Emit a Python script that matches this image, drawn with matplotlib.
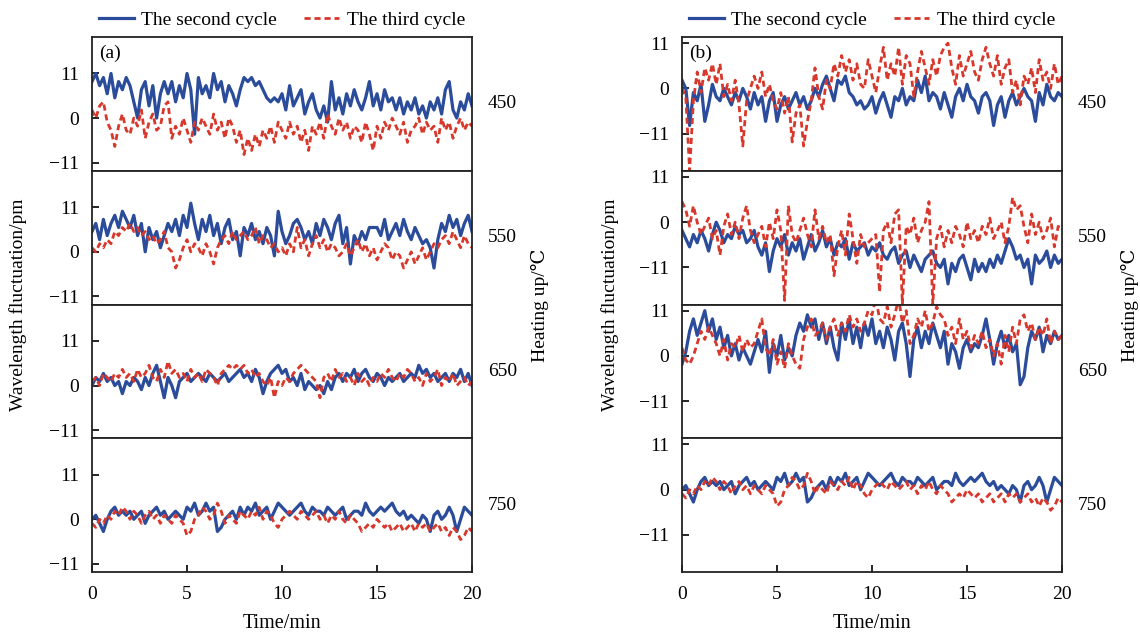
import numpy as np
import matplotlib
matplotlib.use("Agg")
import matplotlib.pyplot as plt

plt.rcParams['font.family'] = ['Liberation Serif', 'DejaVu Serif']
plt.rcParams['font.size'] = 14

# time axis, one reading every 0.2 min
TIME = np.linspace(0, 20, 101)

BLUE = '#2b4c9b'
RED = '#d8382b'

# ---- panel (a) ----
a450_second = [9, 11, 8, 10, 6, 11, 5, 9, 7, 10,
               8, 4, 0, 7, 9, 3, 8, 0, 6, 9,
               6, 9, 4, 8, 5, 11, 7, -4, 10, 6,
               8, 5, 11, 7, 9, 4, 8, 6, 3, 7,
               10, 9, 10, 8, 9, 7, 5, 4, 5, 4,
               6, 2, 8, 3, 5, 7, 1, 4, 6, 2,
               0, 3, -1, 9, 2, 5, 1, 6, 3, 7,
               4, 2, 5, 9, 3, 6, 2, 7, 4, 5,
               2, 5, 1, 4, 2, 5, 1, 3, 0, 4,
               2, 5, 1, 7, 9, 2, 0, 4, 2, 6, 3]
a450_third = [2, 0, 3, 4, -1, -3, -7, -2, 1, -3,
              -4, 0, -2, 2, -5, -1, 1, -3, -2, 3,
              4, -5, -2, -4, 0, -3, -6, -1, -3, 0,
              -2, -4, 1, -3, -1, -5, 0, -2, -6, -3,
              -9, -5, -8, -4, -7, -3, -5, -2, -6, -1,
              -3, -5, -1, -4, -2, -6, -3, -8, -2, -4,
              -1, -5, 1, -2, -4, 0, -3, -1, -5, -2,
              -3, -6, -1, -4, -8, -2, -5, -1, -3, 0,
              -2, -4, -1, -6, -3, -2, 0, -4, -1, -3,
              -2, -6, 0, -3, -1, -5, -2, 0, -3, -1, -2]

a550_second = [5, 7, 3, 8, 4, 7, 9, 6, 10, 8,
               6, 9, 4, 7, 0, 6, 3, 5, 1, 4,
               7, 5, 8, 4, 9, 6, 12, 7, 3, 8,
               5, 9, 4, 7, 2, 6, 8, 3, 5, -1,
               6, 4, 7, 3, 5, 2, 6, 4, -1, 10,
               5, 2, 4, 7, 8, 6, 3, 5, 2, 7,
               4, 8, 6, 3, 7, 9, 2, 6, -3, 4,
               2, 5, 3, 6, 6, 6, 4, 8, 3, 5,
               7, 4, 8, 5, 3, 6, 4, 2, 3, 1,
               -4, 3, 7, 5, 9, 6, 8, 4, 7, 9, 5]
a550_third = [1, 0, 2, 1, 3, 2, 5, 4, 6, 5,
              7, 5, 6, 4, 5, 3, 4, 2, 3, 5,
              1, 0, -4, -2, 1, 3, 0, 2, 1, -1,
              2, 0, -3, 1, 3, 4, 2, 5, 3, 4,
              5, 3, 4, 6, 2, 4, 3, 1, 2, 0,
              1, -1, 2, 0, 6, 1, 3, -1, 2, 4,
              1, 3, 0, 2, 1, -1, 0, 2, -1, 1,
              3, 0, 2, -1, 1, -2, 0, 2, 1, -2,
              0, -1, -4, -2, 0, -3, -1, 1, -2, 0,
              2, 1, 3, 4, 2, 5, 3, 1, 4, 2, 1]

a650_second = [0, 2, 1, 3, 1, 2, 0, 1, -2, 1,
               0, 2, 1, -1, 2, 0, 3, 5, 1, -3,
               2, 0, -3, 1, 2, 3, 1, 2, 3, 2,
               1, 3, 2, 1, 2, 3, 1, 2, 3, 4,
               2, 3, 1, 4, 2, -2, 1, 3, 4, 5,
               3, 4, 1, 2, 0, 3, -1, 1, 0, -1,
               0, -2, 1, -1, 2, 3, 1, 3, 2, 4,
               1, 3, 4, 2, 1, 3, 2, 0, 2, 1,
               2, 3, 1, 2, 3, 2, 5, 3, 4, 2,
               3, 1, 2, 3, 1, 3, 2, 4, 1, 3, 0]
a650_third = [1, 2, 0, 3, 2, 1, 3, 2, 4, 2,
              3, 1, 4, 2, 3, 5, 2, 1, 4, 2,
              6, 3, 4, 2, 3, 1, 4, 2, 3, 1,
              4, 3, 2, 0, 3, 4, 5, 4, 5, 4,
              5, 3, 4, 2, 3, 1, 0, 2, -3, 1,
              0, 2, 1, 3, 4, 5, 4, 3, 2, 1,
              -3, 2, 3, 1, 4, 2, 3, 1, 2, 0,
              3, 1, 2, 0, 2, 1, 3, 2, 4, 2,
              1, 3, 2, 4, 3, 1, 2, 0, 3, 1,
              2, 4, 0, 2, 1, 3, 0, 1, 2, 0, 1]

# 750 looks the same in both panels
s750_second = [0, 1, -1, -3, 0, 2, 3, 1, 2, 1,
               2, 0, 1, 2, -1, 1, 2, 3, 1, 2,
               0, 1, 2, 1, 0, 3, 2, 4, 1, 2,
               4, 2, 3, -3, -2, 0, 1, 2, 0, 3,
               1, 3, 2, 4, 1, 2, 3, 0, 2, 4,
               3, 2, 1, 2, 3, 4, 2, 1, 3, 2,
               2, 1, 3, 2, 1, 2, 3, 0, 1, 2,
               2, 1, 4, 2, 1, 2, 3, 2, 3, 4,
               2, 1, 2, 0, 1, 0, -1, 1, 0, -3,
               1, 2, 0, 1, 3, 1, -3, 0, 3, 2, 1]
s750_third = [-1, -2, 0, -1, 1, 0, 2, 1, 3, 2,
              0, 2, 1, -1, 1, 2, 0, 1, -1, 1,
              0, -1, 1, 0, -1, -4, -3, 0, 1, 3,
              2, 0, 1, 4, 2, -1, 1, 0, -1, 2,
              1, 0, 2, 1, 3, 0, 2, 1, -1, -2,
              0, 1, 2, 1, 0, 2, 1, 0, 1, 2,
              0, 1, -1, 1, 0, 2, 0, -1, 1, 0,
              -1, -3, -2, -1, -2, 0, -1, -2, -1, -3,
              -2, -1, -3, -2, -1, -3, -1, -2, -1, -3,
              -2, -1, -3, -2, -4, -2, -3, -5, -4, -2, -3]

# ---- panel (b) ----
b450_second = [2, 0, -9, -1, -3, 1, -8, -4, 1, -2,
               -3, 0, -2, -4, -1, -3, 0, -2, -5, -1,
               -4, -2, -8, -3, -1, -8, -4, -2, -5, -3,
               -1, -4, -2, -5, -3, 0, -2, 1, 3, 0,
               -3, 2, 1, 3, -1, -2, -4, -3, -5, -4,
               -2, -6, -3, -1, -4, -7, -2, -3, 0, -4,
               -2, -3, 2, -1, 3, -3, -1, -2, -5, -1,
               -4, -7, -2, 0, -3, 1, -2, -3, -6, -2,
               -1, -3, -9, -4, -2, -7, -3, -1, -4, -2,
               0, -2, -3, -8, -1, -4, 1, -2, -3, -1, -2]
b450_third = [0, -2, -20, -3, 4, -1, 5, 2, 6, 1,
              6, -2, 1, -3, 2, -4, -14, -3, 0, 3,
              0, 4, -2, 1, -3, -5, -1, -6, -2, -13,
              -6, -4, -14, -8, -3, 5, -2, -5, 2, 0,
              6, 3, 8, 4, 7, 2, 6, 1, 0, 7,
              3, -1, 5, 10, 2, 6, 3, 10, 1, 8,
              6, -2, 4, 9, 5, 1, 7, 3, 8, 10,
              11, 5, 1, 8, 3, 6, 9, 4, 2, 7,
              10, 6, 3, 8, 1, 5, 7, -1, 2, -4,
              3, 1, 5, -1, 7, 2, 4, 0, 6, 1, 3]

b550_second = [-2, -4, -6, -3, -5, -2, -4, -7, -3, 0,
               -2, -5, -3, -4, -1, -3, -2, -5, -4, -2,
               -6, -8, -5, -12, -7, -4, -6, -3, -8, -5,
               -7, -4, -9, -6, -3, -7, -5, -2, -6, -4,
               -8, -5, -6, -4, -9, -5, -7, -6, -5, -8,
               -6, -7, -5, -8, -9, -7, -6, -10, -8, -7,
               -11, -8, -10, -12, -9, -8, -7, -10, -11, -9,
               -15, -10, -12, -9, -8, -11, -14, -9, -12, -10,
               -12, -9, -11, -8, -10, -7, -4, -6, -9, -8,
               -11, -9, -15, -8, -10, -9, -7, -11, -8, -10, -9]
b550_third = [5, 3, -1, 4, 0, -3, -1, 1, -4, -2,
              -8, -1, 2, -3, 0, -4, 1, 4, -2, -5,
              -3, -1, -6, 0, -4, 3, -2, -19, 4, -3,
              -5, -2, 1, -3, -6, 3, -4, -1, -5, -3,
              -13, -6, -2, -8, 2, -4, -10, -3, -6, -5,
              -4, -3, -17, -2, 0, -5, 2, 3, -20, -1,
              -3, 1, -5, -2, 0, 5, -20, -4, -1, -6,
              -2, -5, -1, -3, -6, 0, -4, -2, -5, -1,
              -3, 1, -4, -2, 0, -5, -1, 6, 3, 4,
              -1, -5, 2, -3, 0, -4, -2, 1, -6, -1, -2]

b650_second = [-2, 1, 6, 9, 5, 8, 11, 6, 9, 4,
               7, 2, 5, 0, 3, -1, 2, 0, -2, 1,
               4, 1, 6, -4, 3, 0, 5, -1, 2, 0,
               5, 8, 6, 10, 7, 9, 4, 8, 3, 7,
               2, -1, 8, 4, 9, 3, 7, 2, 8, 5,
               9, 3, 6, 2, 7, 4, -1, 6, 8, 3,
               -5, 4, 7, 2, 6, 3, 8, 5, 2, 6,
               -2, 3, 1, -3, 2, 4, 1, 3, 2, 5,
               9, 4, -2, 3, 6, 2, 5, 1, 3, -7,
               -5, 2, 6, 4, 7, 1, 5, 3, 6, 4, 5]
b650_third = [2, -1, -2, 0, 3, 6, 4, 7, 5, 3,
              0, 4, -1, 3, 2, 5, 1, 4, 2, 3,
              6, 9, 2, 0, 4, -2, 1, -3, 3, 0,
              -2, -3, 4, 7, 9, 5, 6, 8, 4, 7,
              9, 5, 8, 6, 10, 7, 9, 6, 8, 11,
              10, 14, 9, 8, 12, 7, 10, 14, 8, 11,
              3, 5, 9, 7, 11, 6, 8, 12, 10, 9,
              5, 7, 3, 9, 4, 6, 2, 5, 3, 6,
              2, 4, 0, 3, -2, 5, 1, 7, 3, 9,
              10, 6, 8, 4, 7, 5, 9, 3, 6, 4, 5]

TEMPS = ['450', '550', '650', '750']
PANEL_A = [(a450_second, a450_third), (a550_second, a550_third),
           (a650_second, a650_third), (s750_second, s750_third)]
PANEL_B = [(b450_second, b450_third), (b550_second, b550_third),
           (b650_second, b650_third), (s750_second, s750_third)]

W, H = 1140, 641
fig = plt.figure(figsize=(W / 100, H / 100), dpi=100)

TOP, BOTTOM = 37, 572
row_h = (BOTTOM - TOP) / 4


def draw_panel(left_px, right_px, data, ylim, tag, ylabel_x, heat_x):
    axes = []
    for k in range(4):
        ax = fig.add_axes([left_px / W, 1 - (TOP + (k + 1) * row_h) / H,
                           (right_px - left_px) / W, row_h / H])
        second, third = data[k]
        ax.plot(TIME, second, color=BLUE, lw=2.3, label='The second cycle')
        ax.plot(TIME, third, color=RED, lw=2.0, ls=(0, (2.2, 1.4)), label='The third cycle')
        ax.set_xlim(0, 20)
        ax.set_ylim(*ylim)
        ax.set_yticks([-11, 0, 11])
        ax.set_yticklabels(['\u221211', '0', '11'])
        ax.tick_params(direction='in', length=5, width=1.2, labelsize=14)
        ax.tick_params(axis='y', pad=9)
        if k < 3:
            ax.tick_params(axis='x', bottom=False, labelbottom=False)
        else:
            ax.set_xticks([0, 5, 10, 15, 20])
            ax.tick_params(axis='x', pad=10)
            ax.set_xlabel('Time/min', fontsize=14.5, labelpad=8)
        for sp in ax.spines.values():
            sp.set_linewidth(1.3)
            sp.set_color('#222222')
        ax.text(1.08, 0.5, TEMPS[k], transform=ax.transAxes, ha='center', va='center', fontsize=14)
        axes.append(ax)
    axes[0].text(0.02, 0.88, tag, transform=axes[0].transAxes, fontsize=14, va='center')
    axes[0].legend(loc='lower center', bbox_to_anchor=(0.5, 0.985), ncol=2, frameon=False,
                   fontsize=14, handlelength=1.8, columnspacing=1.4, handletextpad=0.4,
                   borderaxespad=0.1)
    fig.text(ylabel_x / W, 1 - 305 / H, 'Wavelength fluctuation/pm', rotation=90,
             ha='center', va='center', fontsize=14)
    fig.text(heat_x / W, 1 - 305 / H, 'Heating up/\u2103', rotation=90,
             ha='center', va='center', fontsize=14)


draw_panel(92, 472, PANEL_A, (-13, 20), '(a)', 18, 540)
draw_panel(682, 1062, PANEL_B, (-20, 12.5), '(b)', 610, 1130)

fig.savefig('out.png', dpi=100)
